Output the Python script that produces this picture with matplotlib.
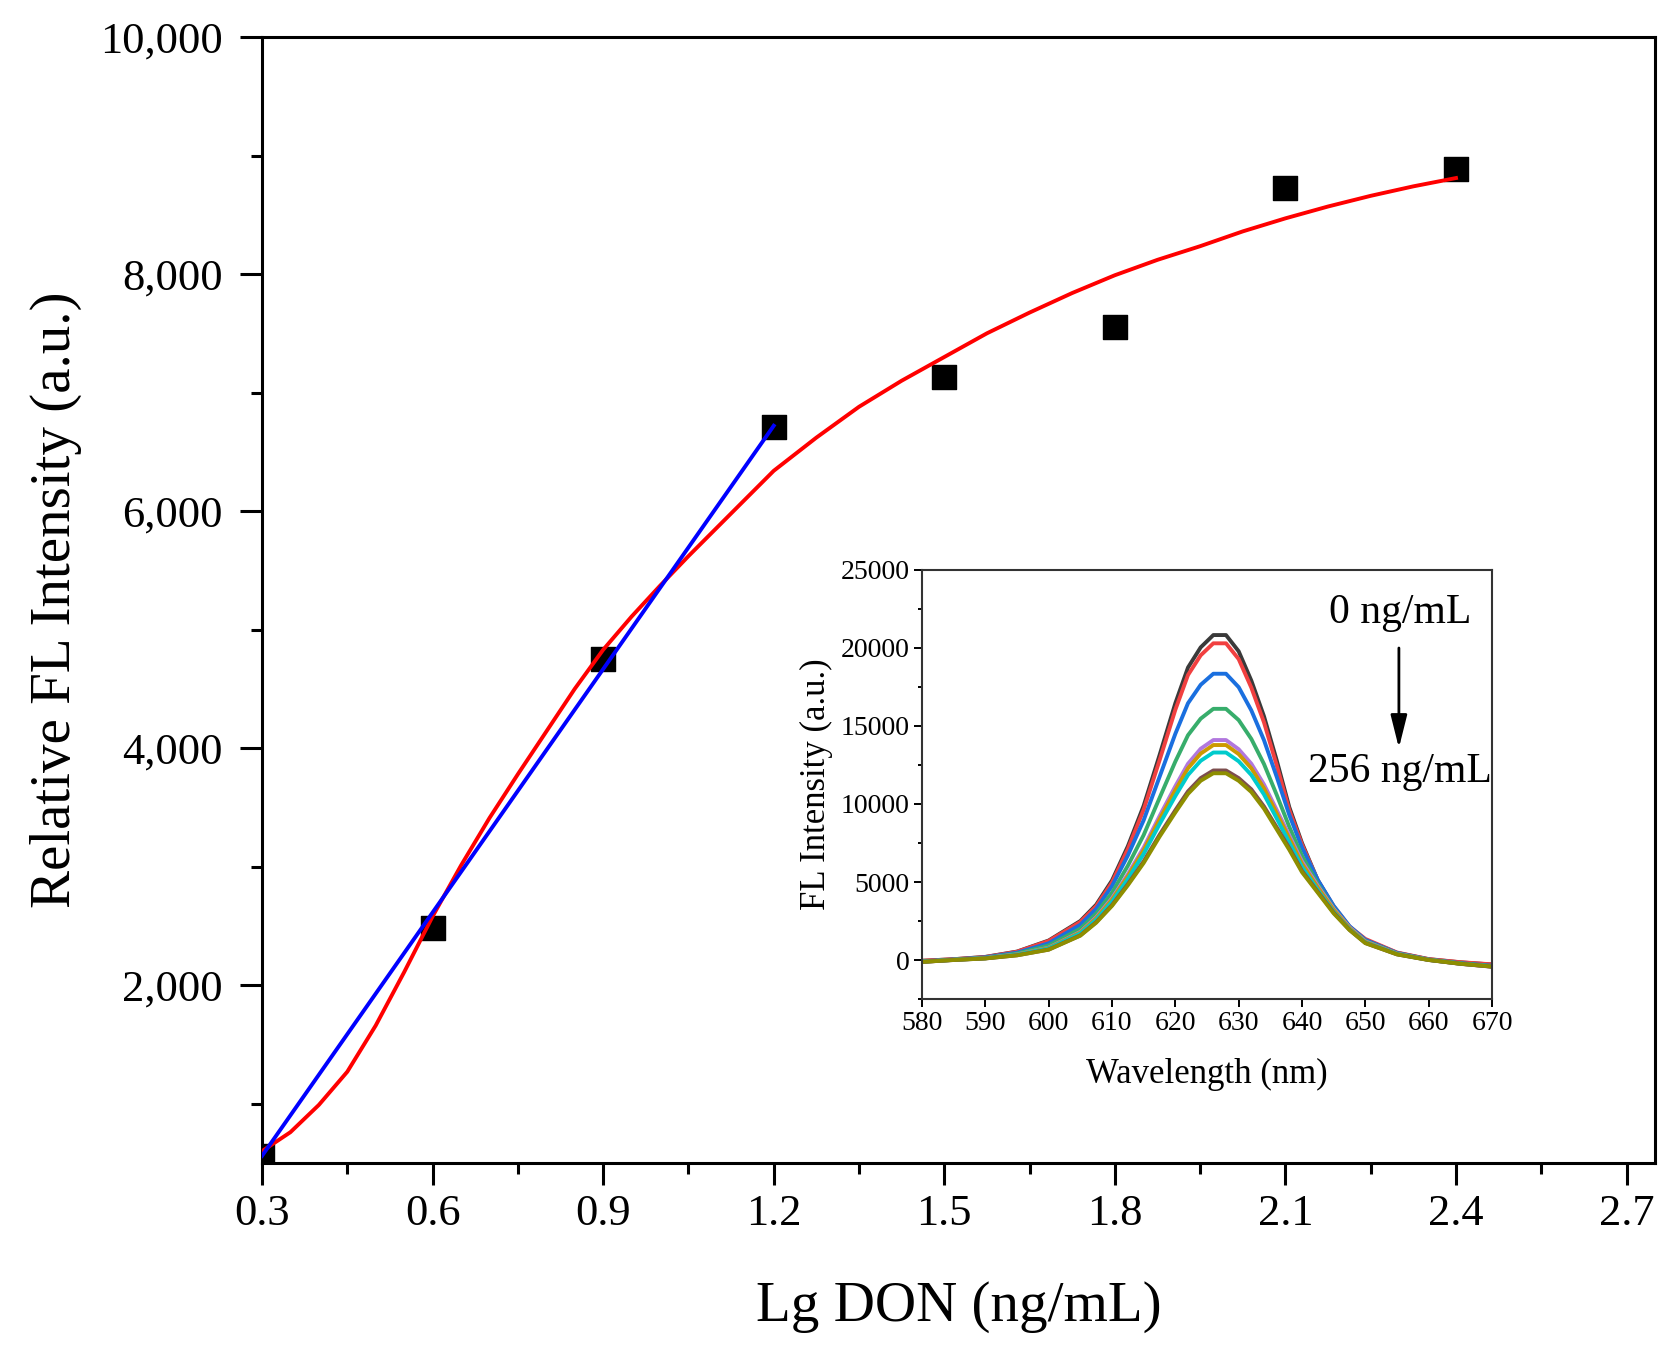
import matplotlib
matplotlib.use('Agg')
import matplotlib.pyplot as plt
from matplotlib.ticker import MultipleLocator, StrMethodFormatter

plt.rcParams['font.family'] = ['Liberation Serif', 'DejaVu Serif']

# main plot: measured points
lg_don = [0.3, 0.6, 0.9, 1.2, 1.5, 1.8, 2.1, 2.4]
fl_intensity = [560, 2480, 4750, 6710, 7130, 7555, 8725, 8890]

# red fitted curve
fit_x = [0.3, 0.35, 0.4, 0.45, 0.5, 0.55, 0.6, 0.65, 0.7, 0.75, 0.8, 0.85, 0.9,
         0.95, 1.0, 1.05, 1.1, 1.15, 1.2, 1.275, 1.35, 1.425, 1.5, 1.575, 1.65,
         1.725, 1.8, 1.875, 1.95, 2.025, 2.1, 2.175, 2.25, 2.325, 2.4]
fit_y = [600, 760, 990, 1270, 1660, 2110, 2580, 3010, 3410, 3780, 4140, 4500, 4830,
         5110, 5370, 5620, 5860, 6100, 6340, 6620, 6880, 7100, 7300, 7500, 7675,
         7840, 7990, 8120, 8235, 8360, 8470, 8570, 8660, 8740, 8810]

# blue linear range
lin_x = [0.3, 1.2]
lin_y = [560, 6720]

# inset: spectra, 0 ng/mL (top) to 256 ng/mL (bottom)
wavelength = [580, 585, 590, 595, 600, 605, 607.5, 610, 612.5, 615, 617.5, 620, 622,
              624, 626, 628, 630, 632, 634, 636, 638, 640, 642.5, 645, 647.5, 650,
              655, 660, 665, 670]
spec_0 = [-50, 50, 200, 540, 1250, 2500, 3540, 5100, 7290, 9890, 13120, 16460, 18750,
          20040, 20830, 20830, 19790, 17910, 15620, 12810, 9790, 7500, 5100, 3400, 2080, 1290,
          460, 50, -150, -290]
spec_1 = [-50, 50, 190, 530, 1220, 2440, 3450, 4970, 7110, 9640, 12790, 16040, 18270,
          19530, 20300, 20300, 19290, 17460, 15230, 12490, 9600, 7400, 5100, 3450, 2150, 1350,
          480, 60, -140, -280]
spec_2 = [-90, 30, 170, 470, 1070, 2260, 3280, 4740, 6700, 8960, 11730, 14500, 16460,
          17640, 18350, 18350, 17490, 16000, 14090, 11750, 9290, 7210, 5130, 3470, 2170, 1290,
          450, 30, -200, -370]
spec_3 = [-100, 20, 140, 410, 930, 2010, 2980, 4310, 6040, 8010, 10380, 12720, 14410,
          15470, 16100, 16100, 15380, 14170, 12560, 10590, 8530, 6680, 4870, 3320, 2090, 1220,
          420, 20, -220, -390]
spec_4 = [-120, 10, 120, 360, 790, 1800, 2740, 3960, 5500, 7210, 9220, 11140, 12580,
          13540, 14100, 14100, 13510, 12580, 11250, 9630, 7980, 6320, 4750, 3280, 2090, 1190,
          400, 10, -250, -430]
spec_5 = [-120, 10, 110, 350, 770, 1760, 2670, 3870, 5370, 7040, 9010, 10890, 12290,
          13230, 13780, 13780, 13200, 12290, 11000, 9410, 7800, 6170, 4640, 3210, 2040, 1160,
          390, 10, -240, -420]
spec_6 = [-110, 10, 110, 340, 740, 1700, 2580, 3740, 5190, 6800, 8700, 10510, 11860,
          12770, 13300, 13300, 12740, 11860, 10610, 9080, 7530, 5960, 4480, 3090, 1970, 1120,
          380, 10, -230, -410]
spec_7 = [-120, 0, 100, 300, 670, 1580, 2430, 3520, 4860, 6320, 8020, 9600, 10810,
          11660, 12150, 12150, 11660, 10940, 9840, 8510, 7170, 5710, 4370, 3040, 1940, 1090,
          360, 0, -240, -430]
spec_8 = [-120, 0, 100, 300, 660, 1560, 2390, 3470, 4790, 6220, 7900, 9460, 10650,
          11490, 11970, 11970, 11490, 10770, 9700, 8380, 7060, 5630, 4310, 2990, 1920, 1080,
          360, 0, -240, -420]
spectra = [spec_0, spec_1, spec_2, spec_3, spec_4, spec_5, spec_6, spec_7, spec_8]
spec_colors = ['#3a3a3a', '#F14040', '#1A6FDF', '#37AD6B', '#B177DE',
               '#CC9900', '#00CBCC', '#7D4E4E', '#8E8E00']

W, H = 1678, 1357
fig = plt.figure(figsize=(W / 100, H / 100), dpi=100)

# main axes
ax = fig.add_axes([262 / W, 1 - 1163 / H, (1655 - 262) / W, (1163 - 37) / H])
ax.scatter(lg_don, fl_intensity, marker='s', s=17 ** 2, color='black', zorder=2)
ax.plot(fit_x, fit_y, color='#ff0000', lw=2.8, zorder=3, solid_joinstyle='round')
ax.plot(lin_x, lin_y, color='#0000ff', lw=2.8, zorder=4)

ax.set_xlim(0.3, 2.75)
ax.set_ylim(500, 10000)
ax.xaxis.set_major_locator(MultipleLocator(0.3))
ax.xaxis.set_minor_locator(MultipleLocator(0.15))
ax.yaxis.set_major_locator(MultipleLocator(2000))
ax.yaxis.set_minor_locator(MultipleLocator(1000))
ax.xaxis.set_major_formatter(StrMethodFormatter('{x:.1f}'))
ax.yaxis.set_major_formatter(StrMethodFormatter('{x:,.0f}'))
ax.tick_params(which='major', direction='out', length=16, width=2.2, labelsize=32)
ax.tick_params(which='minor', direction='out', length=8, width=2.2)
ax.tick_params(axis='x', which='major', pad=6)
ax.tick_params(axis='y', which='major', pad=12)
for sp in ax.spines.values():
    sp.set_linewidth(2.2)

ax.set_xlabel('Lg DON (ng/mL)', fontsize=41)
ax.set_ylabel('Relative FL Intensity (a.u.)', fontsize=41)
ax.xaxis.set_label_coords(0.5, -0.128)
ax.xaxis.label.set_va('center')
ax.yaxis.set_label_coords(-0.148, 0.5)
ax.yaxis.label.set_va('center')

# inset
ins = fig.add_axes([922 / W, 1 - 999 / H, (1492 - 922) / W, (999 - 570) / H])
ins.set_facecolor('white')
for spec, col in zip(spectra, spec_colors):
    ins.plot(wavelength, spec, color=col, lw=2.8, solid_joinstyle='round')

ins.set_xlim(580, 670)
ins.set_ylim(-2500, 25000)
ins.xaxis.set_major_locator(MultipleLocator(10))
ins.yaxis.set_major_locator(MultipleLocator(5000))
ins.yaxis.set_minor_locator(MultipleLocator(2500))
ins.tick_params(which='major', direction='out', length=6, width=1.4, labelsize=20, pad=3)
ins.tick_params(which='minor', direction='out', length=3, width=1.4)
for sp in ins.spines.values():
    sp.set_linewidth(1.5)
    sp.set_color('#333333')

ins.set_xlabel('Wavelength (nm)', fontsize=25)
ins.set_ylabel('FL Intensity (a.u.)', fontsize=25)
ins.xaxis.set_label_coords(0.5, -0.177)
ins.xaxis.label.set_va('center')
ins.yaxis.set_label_coords(-0.186, 0.5)
ins.yaxis.label.set_va('center')

ins.text(655.5, 22240, '0 ng/mL', fontsize=30, ha='center', va='center')
ins.text(655.5, 12050, '256 ng/mL', fontsize=30, ha='center', va='center')
ins.annotate('', xy=(655.3, 13590), xytext=(655.3, 20000),
             arrowprops=dict(arrowstyle='-|>,head_length=0.8,head_width=0.2',
                             color='black', lw=2, mutation_scale=25,
                             shrinkA=0, shrinkB=0))

fig.savefig('out.png', dpi=100, facecolor='white')
